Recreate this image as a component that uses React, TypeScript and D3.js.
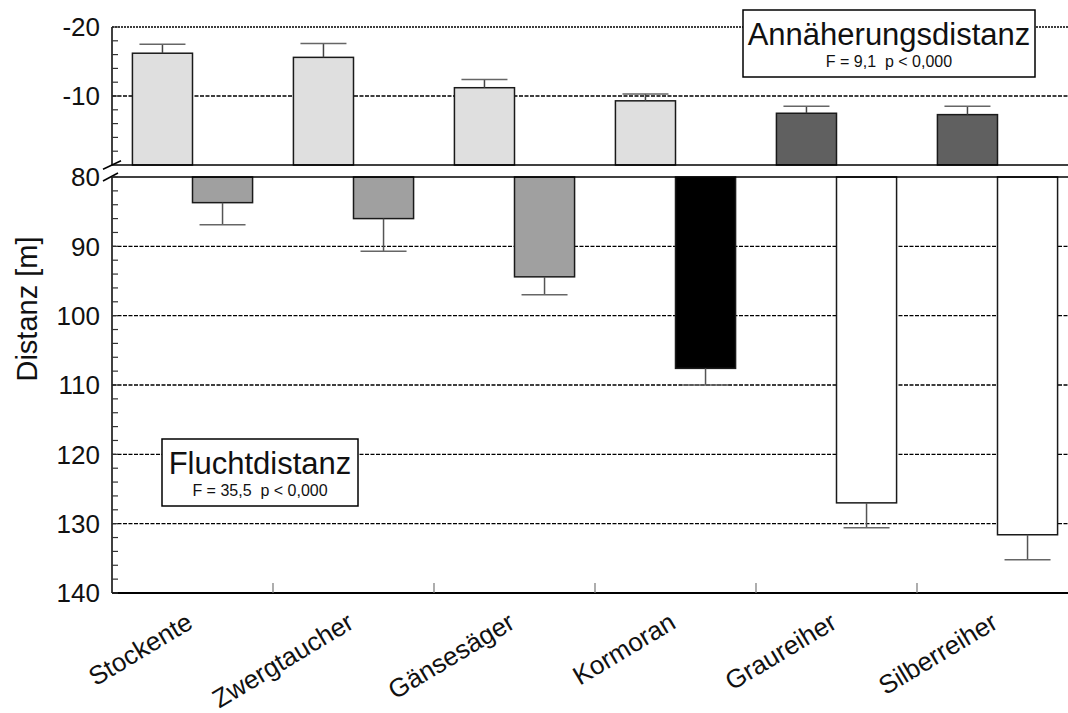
import { useEffect, useRef } from 'react';
import * as d3 from 'd3';

const categories = ['Stockente', 'Zwergtaucher', 'Gänsesäger', 'Kormoran', 'Graureiher', 'Silberreiher'];
// Annäherungsdistanz (plotted as negative values in the upper panel)
const approachMean = [-16.2, -15.6, -11.2, -9.3, -7.5, -7.3];
const approachErr = [1.3, 2.0, 1.2, 1.0, 1.0, 1.2];
// Fluchtdistanz (lower panel)
const flightMean = [83.7, 86.0, 94.4, 107.6, 127.0, 131.6];
const flightErr = [3.2, 4.7, 2.6, 2.4, 3.6, 3.6];

const approachFill = ['#dfdfdf', '#dfdfdf', '#dfdfdf', '#dfdfdf', '#606060', '#606060'];
const flightFill = ['#a0a0a0', '#a0a0a0', '#a0a0a0', '#000000', '#ffffff', '#ffffff'];

const topTicks = [-20, -10];
const bottomTicks = [80, 90, 100, 110, 120, 130, 140];
const gridValuesTop = [-10];
const gridValuesBottom = [90, 100, 110, 120, 130];

export default function App() {
  const ref = useRef<SVGSVGElement>(null);

  useEffect(() => {
    const svg = d3.select(ref.current);
    svg.selectAll('*').remove();

    const font = 'Liberation Sans, Arial, sans-serif';
    const left = 112;
    const right = 1078; // the original chart is cut at the window edge

    const x = d3.scaleBand().domain(categories).range([left, right]).padding(0);
    const inner = d3.scaleBand().domain(['ann', 'flu']).range([0, x.bandwidth()]).paddingInner(0).paddingOuter(0.34);

    const yTop = d3.scaleLinear().domain([-20, 0]).range([27, 165]);
    const yBot = d3.scaleLinear().domain([80, 140]).range([177, 593]);

    const data = categories.map((c, i) => ({
      c,
      am: approachMean[i],
      ae: approachErr[i],
      fm: flightMean[i],
      fe: flightErr[i],
      af: approachFill[i],
      ff: flightFill[i],
    }));

    // grid lines
    const grid = svg.append('g').attr('stroke', '#000').attr('fill', 'none');
    gridValuesTop.forEach(v => {
      grid.append('line').attr('x1', left).attr('x2', right)
        .attr('y1', yTop(v)).attr('y2', yTop(v))
        .attr('stroke-width', 1.5).attr('stroke-dasharray', '4,1.5');
    });
    gridValuesBottom.forEach(v => {
      grid.append('line').attr('x1', left).attr('x2', right)
        .attr('y1', yBot(v)).attr('y2', yBot(v))
        .attr('stroke-width', 1.3).attr('stroke-dasharray', '4,1.5');
    });
    // top border (dotted)
    grid.append('line').attr('x1', left).attr('x2', right)
      .attr('y1', yTop(-20)).attr('y2', yTop(-20))
      .attr('stroke-width', 1.6).attr('stroke-dasharray', '2,1');

    // bars
    const bars = svg.append('g').attr('stroke', '#1a1a1a').attr('stroke-width', 1.5);
    bars.selectAll('rect.ann').data(data).enter().append('rect')
      .attr('x', d => x(d.c)! + inner('ann')!)
      .attr('width', inner.bandwidth())
      .attr('y', d => yTop(d.am))
      .attr('height', d => yTop(0) - yTop(d.am))
      .attr('fill', d => d.af);
    bars.selectAll('rect.flu').data(data).enter().append('rect')
      .attr('x', d => x(d.c)! + inner('flu')!)
      .attr('width', inner.bandwidth())
      .attr('y', yBot(80))
      .attr('height', d => yBot(d.fm) - yBot(80))
      .attr('fill', d => d.ff);

    // error bars
    const capW = 46;
    const err = svg.append('g').attr('stroke-width', 1.5);
    data.forEach(d => {
      const cxA = x(d.c)! + inner('ann')! + inner.bandwidth() / 2;
      err.append('line').attr('x1', cxA).attr('x2', cxA)
        .attr('y1', yTop(d.am)).attr('y2', yTop(d.am - d.ae)).attr('stroke', '#444');
      err.append('line').attr('x1', cxA - capW / 2).attr('x2', cxA + capW / 2)
        .attr('y1', yTop(d.am - d.ae)).attr('y2', yTop(d.am - d.ae)).attr('stroke', '#666');
      const cxF = x(d.c)! + inner('flu')! + inner.bandwidth() / 2;
      err.append('line').attr('x1', cxF).attr('x2', cxF)
        .attr('y1', yBot(d.fm)).attr('y2', yBot(d.fm + d.fe)).attr('stroke', '#555');
      err.append('line').attr('x1', cxF - capW / 2).attr('x2', cxF + capW / 2)
        .attr('y1', yBot(d.fm + d.fe)).attr('y2', yBot(d.fm + d.fe)).attr('stroke', '#666');
    });

    // panel lines at the axis break
    const frame = svg.append('g').attr('stroke', '#000').attr('stroke-width', 1.5);
    frame.append('line').attr('x1', left).attr('x2', right).attr('y1', yTop(0)).attr('y2', yTop(0));
    frame.append('line').attr('x1', left).attr('x2', right).attr('y1', yBot(80)).attr('y2', yBot(80));
    // left axis
    frame.append('line').attr('x1', left).attr('x2', left).attr('y1', yTop(-20)).attr('y2', yTop(0));
    frame.append('line').attr('x1', left).attr('x2', left).attr('y1', yBot(80)).attr('y2', yBot(140));
    // bottom axis
    frame.append('line').attr('x1', left).attr('x2', right).attr('y1', yBot(140)).attr('y2', yBot(140))
      .attr('stroke-width', 2.2);

    // break marks
    frame.append('line').attr('x1', left - 9).attr('x2', left + 9)
      .attr('y1', yTop(0) + 4.3).attr('y2', yTop(0) - 4.3);
    frame.append('line').attr('x1', left - 9).attr('x2', left + 6)
      .attr('y1', yBot(80) + 4).attr('y2', yBot(80) - 4);

    // minor ticks (inward)
    const minorTop = d3.range(-20, 0, 2);
    const minorBot = d3.range(80, 141, 2);
    const ticks = svg.append('g').attr('stroke', '#333').attr('stroke-width', 1.2);
    minorTop.forEach(v => {
      ticks.append('line').attr('x1', left).attr('x2', left + 6).attr('y1', yTop(v)).attr('y2', yTop(v));
    });
    minorBot.forEach(v => {
      ticks.append('line').attr('x1', left).attr('x2', left + 6).attr('y1', yBot(v)).attr('y2', yBot(v));
    });
    // category separators on bottom axis
    categories.slice(1).forEach(c => {
      ticks.append('line').attr('x1', x(c)!).attr('x2', x(c)!)
        .attr('y1', yBot(140)).attr('y2', yBot(140) - 10).attr('stroke', '#777');
    });

    // y tick labels
    const labels = svg.append('g').attr('font-family', font).attr('font-size', 26)
      .attr('text-anchor', 'end').attr('fill', '#111');
    topTicks.forEach(v => {
      labels.append('text').attr('x', 100).attr('y', yTop(v)).attr('dy', '0.36em').text(String(v));
    });
    bottomTicks.forEach(v => {
      labels.append('text').attr('x', 100).attr('y', yBot(v)).attr('dy', '0.36em').text(String(v));
    });

    // y axis title
    svg.append('text')
      .attr('transform', `translate(37,309) rotate(-90)`)
      .attr('text-anchor', 'middle')
      .attr('font-family', font).attr('font-size', 29).attr('fill', '#111')
      .text('Distanz [m]');

    // category labels
    svg.append('g').attr('font-family', font).attr('font-size', 26).attr('fill', '#111')
      .selectAll('text').data(categories).enter().append('text')
      .attr('text-anchor', 'end')
      .attr('transform', c => `translate(${x(c)! + x.bandwidth() / 2 + 2},627) rotate(-31)`)
      .text(c => c);

    // legend boxes
    const box = (bx: number, by: number, bw: number, bh: number, title: string, sub: string) => {
      const g = svg.append('g').attr('font-family', font).attr('fill', '#111');
      g.append('rect').attr('x', bx).attr('y', by).attr('width', bw).attr('height', bh)
        .attr('fill', '#fff').attr('stroke', '#000').attr('stroke-width', 1.5);
      g.append('text').attr('x', bx + bw / 2).attr('y', by + 35).attr('text-anchor', 'middle')
        .attr('font-size', 31).text(title);
      g.append('text').attr('x', bx + bw / 2).attr('y', by + 57).attr('text-anchor', 'middle')
        .attr('font-size', 16).style('white-space', 'pre').text(sub);
    };
    box(743, 10, 292, 67, 'Annäherungsdistanz', 'F = 9,1  p < 0,000');
    box(162, 439, 196, 67, 'Fluchtdistanz', 'F = 35,5  p < 0,000');
  }, []);

  return (
    <svg
      ref={ref}
      width={1068}
      height={713}
      style={{ position: 'absolute', left: 0, top: 0, background: '#fff' }}
    />
  );
}
